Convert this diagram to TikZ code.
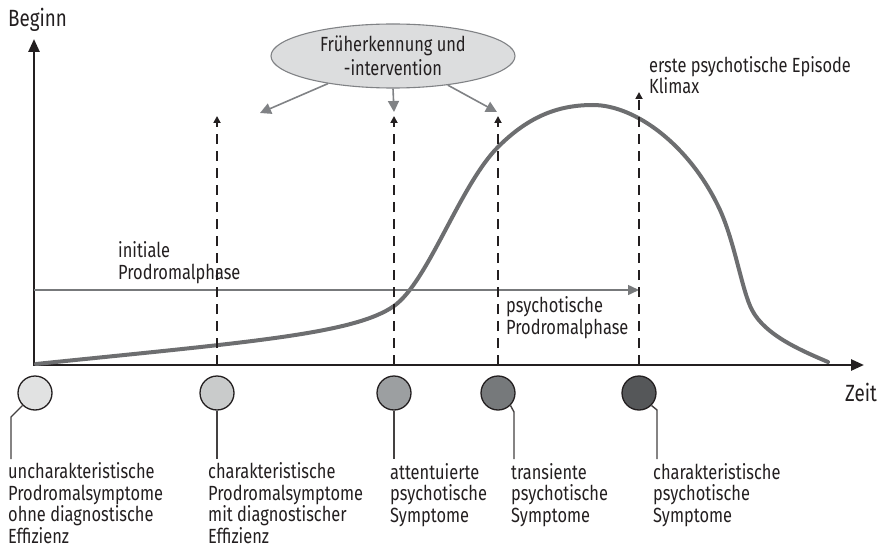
\documentclass[tikz,border=0pt]{standalone}
\usepackage{fontspec}
\setmainfont{Fira Sans}[FakeStretch=0.8]
\usetikzlibrary{arrows.meta,shapes.geometric}
\definecolor{axisc}{HTML}{231F20}
\definecolor{curvec}{HTML}{6D6E70}
\definecolor{pointerc}{HTML}{808285}
\definecolor{phasec}{HTML}{77797B}
\definecolor{ellfill}{HTML}{DCDDDE}
\definecolor{dotA}{HTML}{E1E2E2}
\definecolor{dotB}{HTML}{C9CBCB}
\definecolor{dotC}{HTML}{9C9FA1}
\definecolor{dotD}{HTML}{76797B}
\definecolor{dotE}{HTML}{555759}
\tikzset{
  % multi-line text nodes: anchored at the baseline of their last line
  txt/.style={inner sep=0pt, align=left, anchor=base west, text=axisc,
              font=\fontsize{20.5}{21.5}\selectfont},
  axislabel/.style={txt, font=\fontsize{23.5}{26}\selectfont},
  axisline/.style={draw=axisc, line width=2.6pt, line join=miter,
                   {Triangle[length=13pt,width=11pt]}-{Triangle[length=13pt,width=11pt]}},
  marker/.style={draw=axisc, line width=1.9pt, dash pattern=on 10pt off 7pt,
                 -{Triangle[length=7pt,width=7pt]}},
  pointer/.style={draw=pointerc, line width=1.6pt, -{Triangle[length=11pt,width=11pt]}},
  phase/.style={draw=phasec, line width=1.5pt, -{Triangle[length=11pt,width=10pt]}},
  dot/.style={circle, draw=axisc, line width=1.3pt, minimum size=34pt, inner sep=0pt},
  leader/.style={draw=axisc!85, line width=1.4pt},
}
\begin{document}
\begin{tikzpicture}[x=1pt, y=-1pt]
\useasboundingbox (0,0) rectangle (880,548);

% axes
\coordinate (ytop) at (34,39);
\coordinate (O) at (34,365);
\coordinate (xend) at (864,365);
\draw[axisline] (ytop) -- (O) -- (xend);
\node[axislabel] (beginn) at (8,27) {Beginn};
\node[axislabel] (zeit) at (845,401) {Zeit};

% course of the illness
\draw[curvec, line width=4pt, line cap=round]
  (36,364) .. controls (250,342) and (354,334) .. (394,306)
           .. controls (428,282) and (460,185) .. (498,147)
           .. controls (530,115) and (560,105) .. (593,105)
           .. controls (635,105) and (690,145) .. (720,210)
           .. controls (735,243) and (742,291) .. (752,310)
           .. controls (765,335) and (800,350) .. (828,362);

% phase arrow
\coordinate (phA) at (34,290);
\coordinate (phB) at (639,290);
\draw[phase] (phA) -- (phB);
\node[txt] (initiale) at (118,279) {initiale\\Prodromalphase};
\node[txt] (psychph) at (506,334) {psychotische\\Prodromalphase};
\node[txt] (episode) at (649,94) {erste psychotische Episode\\Klimax};

% markers on the time axis
\foreach \i/\x/\t in {1/217/116, 2/394/116, 3/498/116, 4/639/92}{
  \coordinate (mb\i) at (\x,365);
  \coordinate (mt\i) at (\x,\t);
  \draw[marker] (mb\i) -- (mt\i);
}

% early recognition
\node[ellipse, draw=pointerc, fill=ellfill, line width=1.1pt,
      minimum width=244pt, minimum height=64pt, inner sep=0pt,
      align=center, text=axisc, font=\fontsize{20.5}{24}\selectfont]
  (fi) at (393,56) {Früherkennung und\\-intervention};
\coordinate (pt1) at (260,113);
\coordinate (pt2) at (394,112);
\coordinate (pt3) at (497,112);
\draw[pointer] (fi.203) -- (pt1);
\draw[pointer] (fi.south) -- (pt2);
\draw[pointer] (fi.332) -- (pt3);

% symptom dots
\node[dot, fill=dotA] (c1) at (35,393) {};
\node[dot, fill=dotB] (c2) at (217,393) {};
\node[dot, fill=dotC] (c3) at (394,393) {};
\node[dot, fill=dotD] (c4) at (498,393) {};
\node[dot, fill=dotE] (c5) at (639,393) {};

\coordinate (e1) at (11,459);
\coordinate (e2) at (217,459);
\coordinate (e3) at (394,459);
\coordinate (e4) at (514,459);
\coordinate (e5) at (657,459);
\draw[leader] (c1.225) -- (11,417) -- (e1);
\draw[leader] (c2.south) -- (e2);
\draw[leader] (c3.south) -- (e3);
\draw[leader] (c4.315) -- (514,412) -- (e4);
\draw[leader] (c5.315) -- (657,410) -- (e5);

\node[txt] (l1) at (8,543) {uncharakteristische\\Prodromalsymptome\\ohne diagnostische\\Effizienz};
\node[txt] (l2) at (208,543) {charakteristische\\Prodromalsymptome\\mit diagnostischer\\Effizienz};
\node[txt] (l3) at (390,522) {attentuierte\\psychotische\\Symptome};
\node[txt] (l4) at (511,522) {transiente\\psychotische\\Symptome};
\node[txt] (l5) at (653,522) {charakteristische\\psychotische\\Symptome};
\end{tikzpicture}
\end{document}
